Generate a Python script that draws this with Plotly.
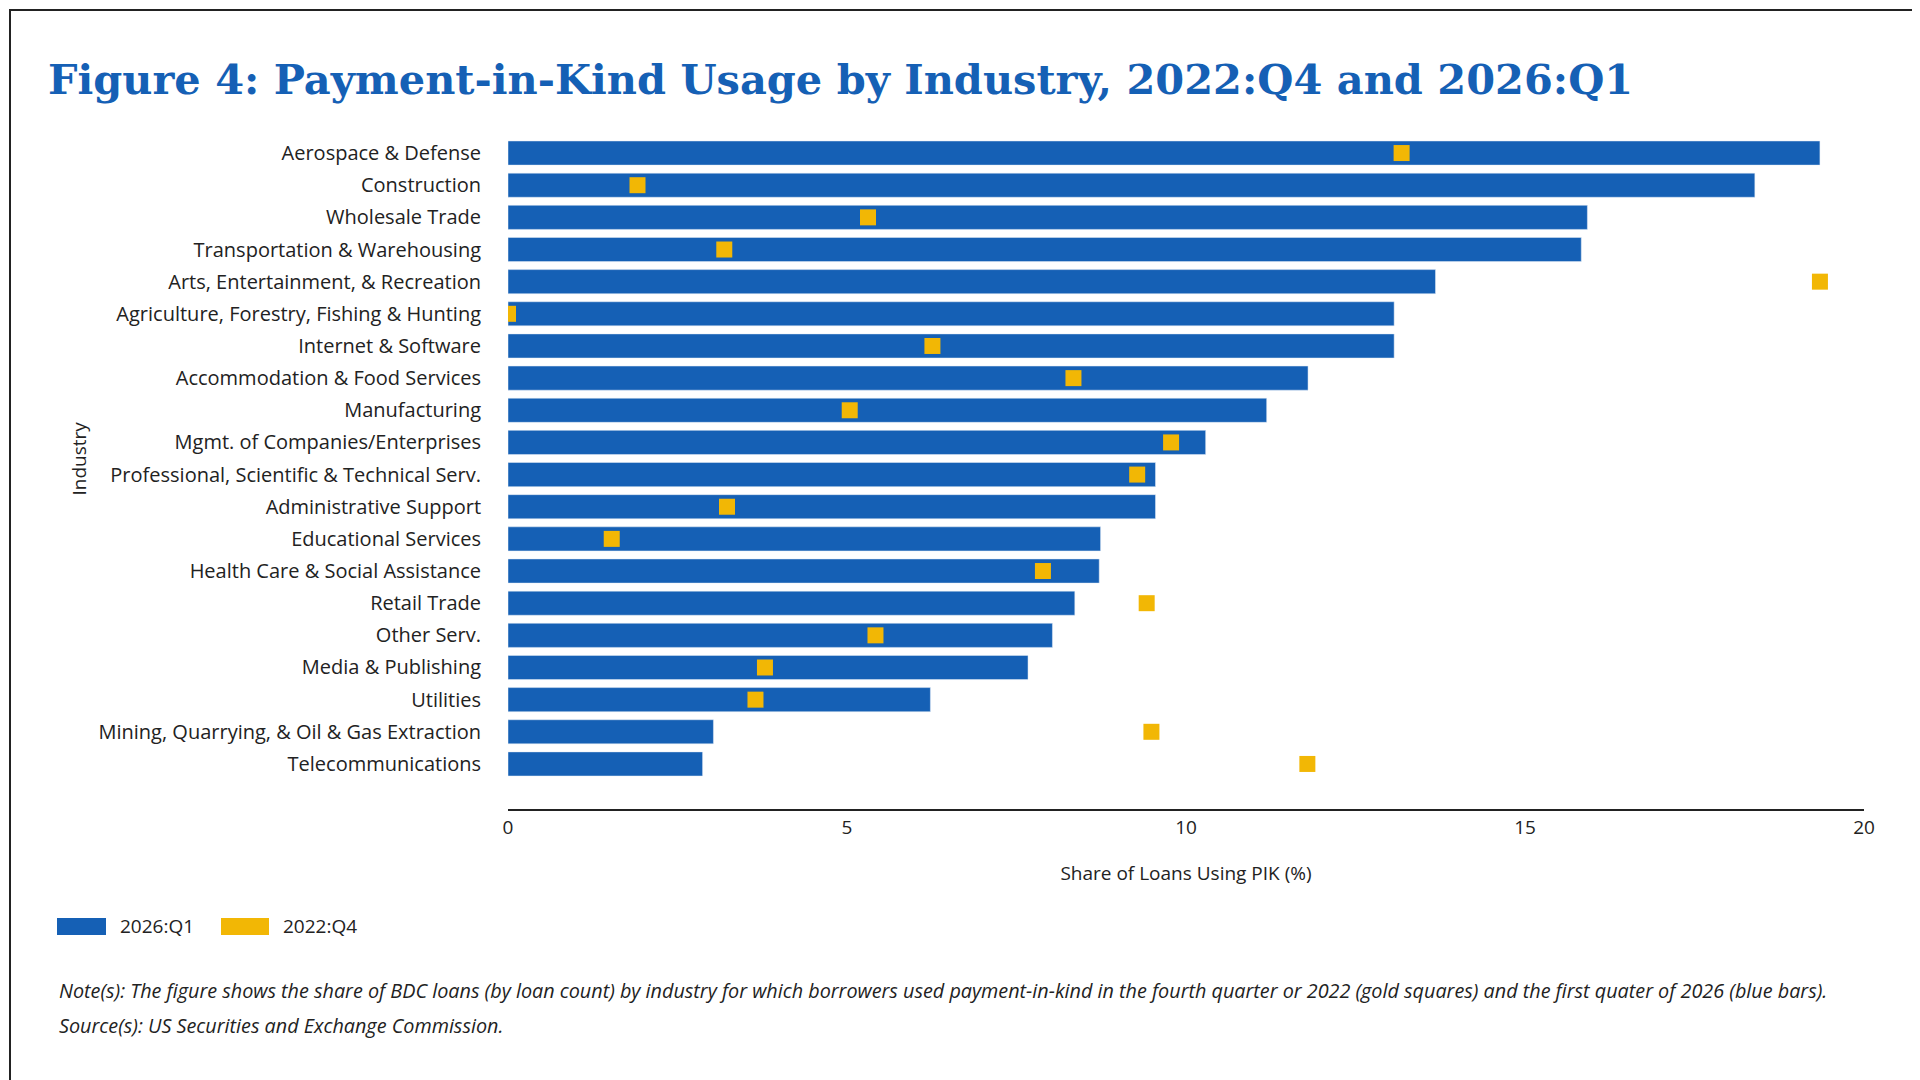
import plotly.graph_objects as go

industries = ["Aerospace & Defense","Construction","Wholesale Trade","Transportation & Warehousing",
"Arts, Entertainment, & Recreation","Agriculture, Forestry, Fishing & Hunting","Internet & Software",
"Accommodation & Food Services","Manufacturing","Mgmt. of Companies/Enterprises",
"Professional, Scientific & Technical Serv.","Administrative Support","Educational Services",
"Health Care & Social Assistance","Retail Trade","Other Serv.","Media & Publishing","Utilities",
"Mining, Quarrying, & Oil & Gas Extraction","Telecommunications"]
q1_2026 = [19.35,18.39,15.92,15.83,13.68,13.07,13.07,11.8,11.19,10.29,9.55,9.55,8.74,8.72,8.36,8.03,7.67,6.23,3.03,2.87]
q4_2022 = [13.18,1.91,5.31,3.19,19.35,0.0,6.26,8.34,5.04,9.78,9.28,3.23,1.53,7.89,9.42,5.42,3.79,3.65,9.49,11.79]
series_names = ["2026:Q1", "2022:Q4"]

BLUE = "#1560b5"; GOLD = "#f2b705"; FONT = "Open Sans"
W, H = 1920, 1080
L, R, T, B = 500, 64, 100, 279
PW, PH = W - L - R, H - T - B
def px(x): return (x - L) / PW
def py(y): return -(y - (H - B)) / PH

fig = go.Figure()
fig.add_bar(y=industries, x=q1_2026, orientation="h", marker_color=BLUE, name=series_names[0], showlegend=False)
fig.add_scatter(y=industries, x=q4_2022, mode="markers", marker=dict(symbol="square", size=16, color=GOLD),
                name=series_names[1], showlegend=False)

shapes = [
    dict(type="rect", xref="paper", yref="paper", x0=px(2), x1=px(W-2), y0=py(H-2), y1=py(2),
         line=dict(color="#222", width=2)),
    dict(type="rect", xref="paper", yref="paper", x0=px(49), x1=px(98), y0=py(927), y1=py(910),
         fillcolor=BLUE, line_width=0),
    dict(type="rect", xref="paper", yref="paper", x0=px(213), x1=px(261), y0=py(927), y1=py(910),
         fillcolor=GOLD, line_width=0),
]
fig.update_layout(
    width=W, height=H, plot_bgcolor="white", paper_bgcolor="white",
    font=dict(family=FONT, size=20, color="#222"),
    margin=dict(l=L, r=R, t=T, b=B), bargap=0.25, showlegend=False,
    title=dict(text="<b>Figure 4: Payment-in-Kind Usage by Industry, 2022:Q4 and 2026:Q1</b>",
               x=40/W, xanchor="left", y=1-71/H, yanchor="middle",
               font=dict(family="DejaVu Serif", size=41.5, color=BLUE)),
    xaxis=dict(range=[0,20], tickvals=[0,5,10,15,20], showgrid=False, zeroline=False,
               showline=True, linecolor="#222", linewidth=2, ticks="", ticklen=0,
               tickfont=dict(size=19),
               title=dict(text="Share of Loans Using PIK (%)", standoff=28, font=dict(size=19))),
    yaxis=dict(autorange="reversed", showgrid=False, ticksuffix="     ", showline=False),
    shapes=shapes,
    annotations=[
        dict(text="Industry", textangle=-90, xref="paper", yref="paper", x=px(55), y=0.5,
             showarrow=False, font=dict(size=19)),
        dict(text=series_names[0], xref="paper", yref="paper", x=px(110), y=py(918),
             xanchor="left", yanchor="middle", showarrow=False, font=dict(size=19)),
        dict(text=series_names[1], xref="paper", yref="paper", x=px(273), y=py(918),
             xanchor="left", yanchor="middle", showarrow=False, font=dict(size=19)),
        dict(text="<i>Note(s): The figure shows the share of BDC loans (by loan count) by industry for which borrowers used payment-in-kind in the fourth quarter or 2022 (gold squares) and the first quater of 2026 (blue bars).</i>",
             xref="paper", yref="paper", x=px(49), y=py(982), xanchor="left", yanchor="middle",
             showarrow=False, font=dict(size=19.8)),
        dict(text="<i>Source(s): US Securities and Exchange Commission.</i>",
             xref="paper", yref="paper", x=px(49), y=py(1018), xanchor="left", yanchor="middle",
             showarrow=False, font=dict(size=19.8)),
    ],
)
fig.write_html("out.html")
